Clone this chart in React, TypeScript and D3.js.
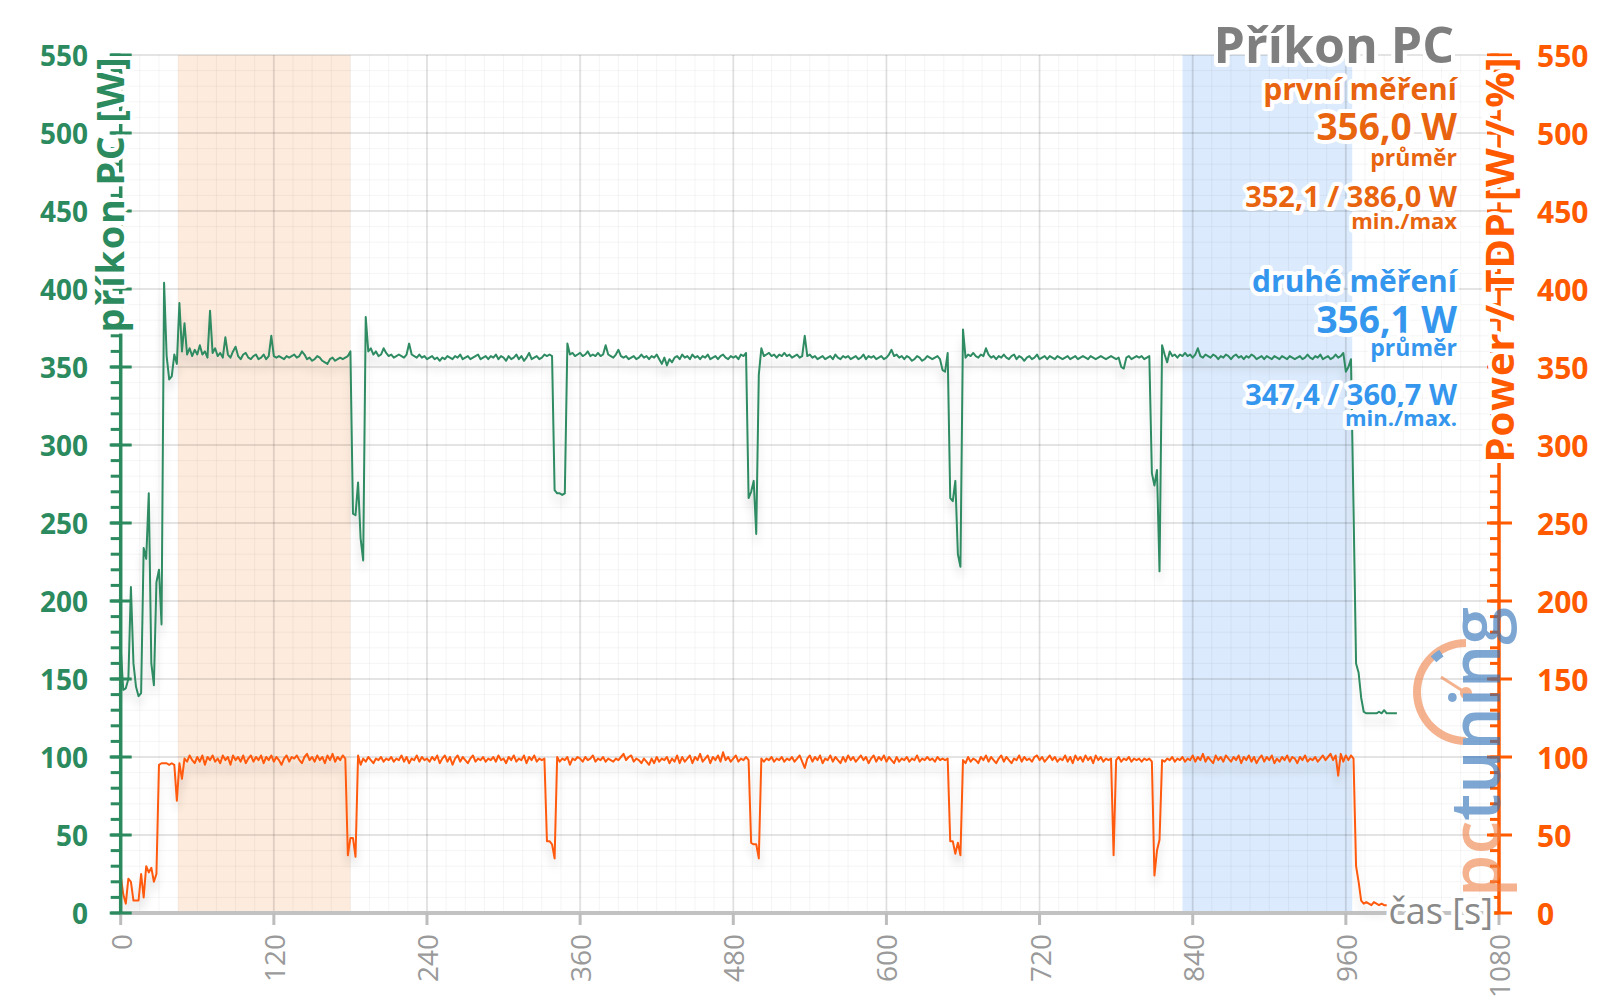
import React from "react";
import * as d3 from "d3";

// ---------- data ----------
const STEP = 2; // seconds between samples

// příkon PC [W] (left axis), sample every 2 s from t = 0
const pcPower = [
  170, 143, 144, 150, 209, 160, 145, 139, 141, 234,
  227, 269, 160, 146, 212, 220, 185, 404, 357, 342,
  344, 358, 352, 391, 360, 378, 358, 362, 357, 361,
  358, 364, 358, 360, 356, 386, 359, 362, 357, 359,
  356, 369, 358, 356, 360, 363, 357, 355, 358, 359,
  356, 355, 357, 358, 355, 356, 358, 355, 357, 370,
  357, 356, 357, 356, 355, 357, 356, 357, 358, 356,
  357, 360, 358, 355, 356, 354, 355, 357, 356, 354,
  353, 352, 355, 356, 354, 355, 356, 355, 356, 357,
  360, 256, 255, 276, 240, 226, 382, 360, 362, 358,
  360, 357, 358, 362, 359, 357, 358, 356, 357, 358,
  357, 356, 358, 365, 358, 357, 356, 358, 356, 357,
  355, 356, 357, 355, 356, 354, 356, 355, 357, 356,
  355, 357, 356, 358, 355, 356, 357, 355, 356, 357,
  358, 355, 356, 357, 355, 357, 356, 358, 355, 357,
  356, 354, 357, 355, 356, 358, 355, 357, 354, 356,
  359, 355, 356, 357, 355, 356, 358, 357, 358, 357,
  271, 269, 269, 268, 269, 365, 358, 359, 357, 358,
  359, 357, 358, 360, 357, 358, 357, 359, 357, 358,
  364, 358, 357, 356, 358, 361, 357, 356, 357, 355,
  356, 357, 355, 356, 358, 356, 357, 355, 357, 356,
  358, 355, 352, 356, 351, 355, 353, 356, 357, 355,
  358, 356, 357, 355, 358, 356, 357, 355, 357, 356,
  358, 355, 356, 357, 355, 357, 358, 356, 355, 357,
  356, 357, 355, 358, 357, 359, 266, 270, 277, 243,
  345, 362, 357, 358, 359, 357, 358, 356, 358, 357,
  359, 357, 358, 356, 357, 358, 356, 357, 370, 357,
  358, 356, 357, 355, 356, 357, 355, 356, 357, 355,
  358, 356, 355, 357, 356, 357, 355, 356, 357, 355,
  356, 358, 355, 357, 356, 357, 355, 356, 357, 355,
  356, 358, 361, 357, 358, 356, 357, 355, 357, 356,
  354, 355, 357, 356, 354, 355, 357, 356, 355, 356,
  357, 355, 348, 347, 359, 266, 264, 277, 230, 222,
  374, 356, 358, 357, 359, 357, 356, 358, 357, 362,
  358, 356, 357, 355, 357, 356, 358, 356, 355, 357,
  358, 355, 357, 356, 354, 356, 357, 355, 356, 358,
  355, 356, 357, 355, 357, 356, 355, 357, 356, 355,
  356, 357, 355, 356, 357, 355, 356, 357, 356, 355,
  357, 356, 355, 356, 357, 356, 355, 356, 357, 356,
  355, 356, 350, 349, 356, 357, 355, 356, 357, 356,
  357, 355, 356, 357, 282, 274, 284, 219, 364, 358,
  353, 360, 357, 358, 356, 358, 357, 359, 357, 358,
  356, 358, 362, 357, 356, 358, 357, 356, 358, 357,
  355, 357, 356, 358, 357, 355, 357, 358, 356, 357,
  355, 357, 356, 358, 357, 355, 356, 357, 355, 357,
  356, 355, 357, 356, 355, 357, 356, 355, 357, 356,
  355, 356, 357, 355, 356, 358, 356, 355, 357, 356,
  358, 355, 356, 357, 355, 356, 358, 356, 357, 359,
  347, 350, 355, 260, 160, 154, 138, 129, 128, 128,
  128, 128, 128, 129, 128, 130, 128, 128, 128, 128,
  128,
];

// Power / TDP [W / %] (right axis), sample every 2 s from t = 0
const cpuPower = [
  24, 12, 6, 22, 20, 8, 8, 8, 25, 10,
  30, 26, 29, 20, 25, 95, 96, 96, 96, 95,
  96, 95, 72, 96, 86, 99, 97, 101, 98, 96,
  100, 97, 101, 95, 100, 98, 101, 97, 99, 96,
  101, 98, 100, 95, 101, 98, 100, 97, 101, 96,
  99, 101, 97, 100, 98, 101, 96, 100, 98, 101,
  97, 100, 98, 95, 99, 101, 97, 100, 99, 101,
  98, 96, 100, 102, 98, 100, 97, 101, 98, 100,
  96, 101, 98, 102, 97, 100, 98, 101, 99, 37,
  48, 48, 36, 101, 95, 99, 97, 100, 98, 96,
  99, 98, 100, 97, 99, 98, 100, 97, 99, 98,
  101, 97, 100, 96, 99, 98, 101, 97, 100, 98,
  99, 97, 100, 98, 101, 96, 99, 101, 97, 100,
  95, 99, 101, 97, 100, 98, 96, 99, 101, 97,
  99, 98, 100, 97, 99, 98, 100, 97, 101, 98,
  99, 96, 100, 98, 101, 97, 99, 98, 101, 96,
  100, 98, 101, 97, 99, 98, 99, 46, 46, 44,
  35, 100, 97, 99, 98, 100, 95, 99, 98, 100,
  99, 97, 100, 98, 99, 101, 97, 99, 98, 100,
  97, 99, 98, 97, 99, 98, 100, 102, 98, 100,
  101, 97, 99, 98, 96, 99, 97, 95, 99, 96,
  100, 97, 99, 98, 100, 96, 99, 97, 101, 96,
  100, 97, 99, 101, 96, 100, 98, 102, 97, 99,
  101, 96, 100, 98, 101, 97, 103, 98, 100, 97,
  99, 101, 97, 99, 98, 100, 98, 45, 44, 44,
  35, 99, 97, 99, 98, 100, 97, 99, 98, 100,
  97, 99, 98, 100, 97, 99, 101, 97, 93, 99,
  101, 97, 100, 98, 101, 96, 99, 98, 101, 97,
  100, 98, 96, 100, 97, 101, 98, 100, 97, 99,
  101, 98, 100, 96, 99, 101, 97, 100, 98, 101,
  97, 100, 98, 96, 100, 97, 99, 98, 100, 97,
  99, 98, 101, 97, 99, 98, 100, 98, 99, 97,
  100, 98, 99, 98, 99, 46, 46, 38, 45, 37,
  98, 96, 100, 97, 99, 98, 96, 100, 98, 101,
  97, 100, 98, 96, 99, 101, 97, 100, 98, 96,
  99, 98, 101, 97, 100, 98, 99, 97, 100, 101,
  98, 100, 97, 99, 101, 98, 100, 97, 99, 98,
  101, 97, 100, 96, 101, 98, 100, 97, 101, 98,
  100, 96, 101, 98, 100, 97, 99, 98, 99, 37,
  98, 100, 97, 99, 98, 100, 97, 99, 98, 99,
  97, 99, 98, 99, 97, 24, 40, 47, 98, 97,
  99, 98, 100, 97, 99, 98, 100, 97, 99, 98,
  101, 97, 100, 98, 102, 97, 100, 98, 96, 101,
  98, 100, 97, 101, 99, 97, 100, 98, 101, 96,
  100, 98, 101, 97, 100, 96, 99, 101, 97, 100,
  98, 101, 96, 99, 97, 100, 98, 101, 97, 100,
  99, 96, 100, 98, 101, 97, 99, 98, 100, 97,
  99, 101, 98, 100, 102, 98, 101, 88, 102, 97,
  101, 98, 101, 99, 30, 20, 8, 6, 7, 6,
  5, 7, 6, 5, 6, 5, 5,
];

const xTickValues = [0, 120, 240, 360, 480, 600, 720, 840, 960, 1080];
const yTickValues = [0, 50, 100, 150, 200, 250, 300, 350, 400, 450, 500, 550];
const firstRange = [45, 180];
const secondRange = [832, 965];

const chartTitle = "Příkon PC";
const leftTitle = "příkon PC [W]";
const rightTitle = "Power / TDP [W / %]";
const xTitle = "čas [s]";
const firstStats = ["první měření", "356,0 W", "průměr", "352,1 / 386,0 W", "min./max"];
const secondStats = ["druhé měření", "356,1 W", "průměr", "347,4 / 360,7 W", "min./max."];

// ---------- styling ----------
const FONT = "'Open Sans', 'DejaVu Sans', sans-serif";
const GREEN = "#2b8a5e";
const GREEN_LINE = "#2e8b62";
const ORANGE = "#ff5a00";
const ORANGE_LINE = "#ff5a0f";
const ORANGE_TEXT = "#e8640f";
const BLUE_TEXT = "#3596ee";
const GREY_TITLE = "#7f7f7f";

const halo = {
  stroke: "#fff",
  strokeWidth: 8,
  strokeLinejoin: "round" as const,
  style: { paintOrder: "stroke" } as React.CSSProperties,
};

export default function App() {
  const x = d3.scaleLinear().domain([0, 1080]).range([120.7, 1499]);
  const y = d3.scaleLinear().domain([0, 550]).range([913, 55]);
  const line = d3
    .line<number>()
    .x((_, i) => x(i * STEP))
    .y((d) => y(d));

  const minorX = d3.range(0, 1081, 15);
  const minorY = d3.range(0, 551, 10);
  const [x0, x1] = x.range();
  const [yb, yt] = y.range();

  const statSizes = [30, 37, 23, 29, 22];
  const firstY = [100, 140, 166, 207, 229];
  const secondY = [292, 333, 356, 405, 426];

  const gaugeArc = d3.arc()({ innerRadius: 45, outerRadius: 53, startAngle: Math.PI, endAngle: 2 * Math.PI }) as string;
  const gaugeTick = d3.arc()({ innerRadius: 42, outerRadius: 50, startAngle: 5.5, endAngle: 5.72 }) as string;

  return (
    <svg
      width={1600}
      height={1008}
      style={{ position: "absolute", left: 0, top: 0, display: "block", background: "#fff" }}
      fontFamily={FONT}
    >
      <defs>
        <filter id="shadow" filterUnits="userSpaceOnUse" x={0} y={0} width={1600} height={1008}>
          <feGaussianBlur in="SourceAlpha" stdDeviation={5} />
          <feOffset dy={9} result="off" />
          <feComponentTransfer>
            <feFuncA type="linear" slope={0.16} />
          </feComponentTransfer>
          <feMerge>
            <feMergeNode />
            <feMergeNode in="SourceGraphic" />
          </feMerge>
        </filter>
      </defs>

      {/* bands */}
      <rect x={x(firstRange[0])} y={yt} width={x(firstRange[1]) - x(firstRange[0])} height={yb - yt} fill="#fdebdd" />
      <rect x={x(secondRange[0])} y={yt} width={x(secondRange[1]) - x(secondRange[0])} height={yb - yt} fill="#dbeafc" />

      {/* grid */}
      {minorX.map((v) => (
        <line key={"mx" + v} x1={x(v)} x2={x(v)} y1={yt} y2={yb} stroke="rgba(0,0,0,0.045)" strokeWidth={1} />
      ))}
      {minorY.map((v) => (
        <line key={"my" + v} x1={x0} x2={x1} y1={y(v)} y2={y(v)} stroke="rgba(0,0,0,0.045)" strokeWidth={1} />
      ))}
      {xTickValues.map((v) => (
        <line key={"gx" + v} x1={x(v)} x2={x(v)} y1={yt} y2={yb} stroke="rgba(0,0,0,0.09)" strokeWidth={2} />
      ))}
      {yTickValues.map((v) => (
        <line key={"gy" + v} x1={x0} x2={x1} y1={y(v)} y2={y(v)} stroke="rgba(0,0,0,0.085)" strokeWidth={2} />
      ))}

      {/* series */}
      <path d={line(cpuPower) as string} fill="none" stroke={ORANGE_LINE} strokeWidth={2} strokeLinejoin="round" filter="url(#shadow)" />
      <path d={line(pcPower) as string} fill="none" stroke={GREEN_LINE} strokeWidth={2} strokeLinejoin="round" filter="url(#shadow)" />

      {/* x axis */}
      <line x1={x0} x2={x1} y1={yb} y2={yb} stroke="#c2c2c2" strokeWidth={4} />
      {xTickValues.map((v) => (
        <g key={"xt" + v}>
          <line x1={x(v)} x2={x(v)} y1={yb} y2={yb + 12} stroke="#bdbdbd" strokeWidth={3} />
          <text
            transform={`translate(${x(v)},${yb + 21}) rotate(-90)`}
            textAnchor="end"
            dominantBaseline="central"
            fontSize={28}
            fill="#9a9a9a"
          >
            {v}
          </text>
        </g>
      ))}

      {/* left axis */}
      <line x1={x0} x2={x0} y1={yt} y2={yb} stroke={GREEN} strokeWidth={3.5} />
      {minorY.map((v) => (
        <line key={"lm" + v} x1={x0 - 10} x2={x0} y1={y(v)} y2={y(v)} stroke={GREEN} strokeWidth={3} />
      ))}
      {yTickValues.map((v) => (
        <g key={"lt" + v}>
          <line x1={x0 - 11} x2={x0 + 11} y1={y(v)} y2={y(v)} stroke={GREEN} strokeWidth={3} />
          <text x={88} y={y(v)} textAnchor="end" dominantBaseline="central" fontSize={28} fontWeight={700} fill={GREEN}>
            {v}
          </text>
        </g>
      ))}

      {/* right axis */}
      <line x1={x1} x2={x1} y1={yt} y2={yb} stroke={ORANGE} strokeWidth={3.5} />
      {minorY.map((v) => (
        <line key={"rm" + v} x1={x1 - 9} x2={x1} y1={y(v)} y2={y(v)} stroke={ORANGE} strokeWidth={3} />
      ))}
      {yTickValues.map((v) => (
        <g key={"rt" + v}>
          <line x1={x1 - 12} x2={x1 + 13} y1={y(v)} y2={y(v)} stroke={ORANGE} strokeWidth={3} />
          <text x={1537} y={y(v)} textAnchor="start" dominantBaseline="central" fontSize={30} fontWeight={700} fill={ORANGE}>
            {v}
          </text>
        </g>
      ))}

      {/* axis titles */}
      <text
        transform="translate(124,195) rotate(-90)"
        textAnchor="middle"
        fontSize={38}
        fontWeight={700}
        fill={GREEN}
        textLength={275}
        lengthAdjust="spacing"
        {...halo}
      >
        {leftTitle}
      </text>
      <text
        transform="translate(1514,260) rotate(-90)"
        textAnchor="middle"
        fontSize={40}
        fontWeight={700}
        fill={ORANGE}
        textLength={405}
        lengthAdjust="spacing"
        {...halo}
      >
        {rightTitle}
      </text>
      <text x={1493} y={924} textAnchor="end" fontSize={36} fill="#8a8a8a" {...halo}>
        {xTitle}
      </text>

      {/* title and stats */}
      <text x={1454} y={63} textAnchor="end" fontSize={50} fontWeight={700} fill={GREY_TITLE} {...halo}>
        {chartTitle}
      </text>
      {firstStats.map((s, i) => (
        <text key={"f" + i} x={1457} y={firstY[i]} textAnchor="end" fontSize={statSizes[i]} fontWeight={700} fill={ORANGE_TEXT} {...halo}>
          {s}
        </text>
      ))}
      {secondStats.map((s, i) => (
        <text key={"s" + i} x={1457} y={secondY[i]} textAnchor="end" fontSize={statSizes[i]} fontWeight={700} fill={BLUE_TEXT} {...halo}>
          {s}
        </text>
      ))}

      {/* logo */}
      <g opacity={0.62}>
        <path d={gaugeArc} transform="translate(1466,692)" fill="#f0844a" />
        <path d={gaugeTick} transform="translate(1466,692)" fill="#2f72b8" />
        <line x1={1466} y1={693} x2={1441} y2={677} stroke="#f0844a" strokeWidth={3} />
        <circle cx={1466} cy={693} r={6} fill="#f0844a" />
        <text
          transform="translate(1500,897) rotate(-90)"
          fontSize={68}
          fontWeight={600}
          textLength={290}
          lengthAdjust="spacingAndGlyphs"
        >
          <tspan fill="#f0844a">pc</tspan>
          <tspan fill="#2f72b8">tuning</tspan>
        </text>
      </g>
    </svg>
  );
}
